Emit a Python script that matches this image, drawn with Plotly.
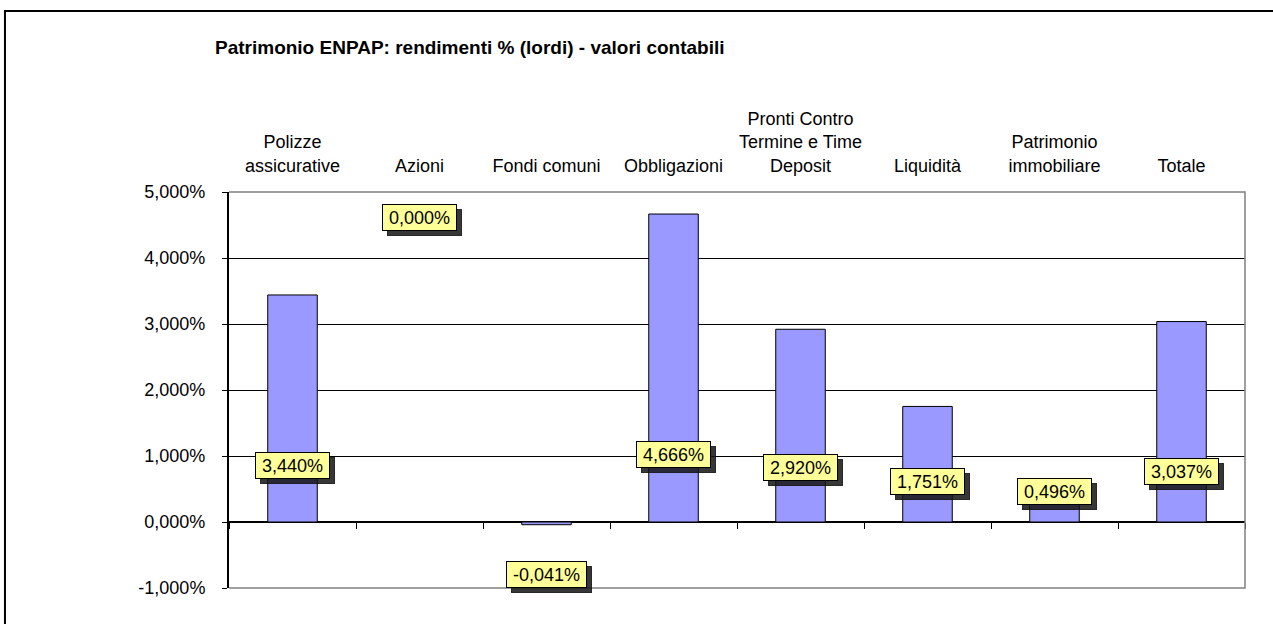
import plotly.graph_objects as go

# ---- data ----
categories = [
    "Polizze<br>assicurative",
    "Azioni",
    "Fondi comuni",
    "Obbligazioni",
    "Pronti Contro<br>Termine e Time<br>Deposit",
    "Liquidità",
    "Patrimonio<br>immobiliare",
    "Totale",
]
rendimenti = [3.440, 0.000, -0.041, 4.666, 2.920, 1.751, 0.496, 3.037]
y_tick_vals = [-1, 0, 1, 2, 3, 4, 5]
y_tick_text = ["-1,000%", "0,000%", "1,000%", "2,000%", "3,000%", "4,000%", "5,000%"]
# vertical placement of the data-label boxes (as placed in the original chart)
label_y = [0.85, 4.61, -0.80, 1.03, 0.83, 0.62, 0.46, 0.76]

title_text = "Patrimonio ENPAP: rendimenti % (lordi) - valori contabili"

FONT = "Liberation Sans, Arial, sans-serif"
LBL_SIZE = 18
CHAR_EM = {",": 0.278, "%": 0.889, "-": 0.333}


def fmt(v):
    return f"{v:.3f}".replace(".", ",") + "%"


def text_width(s, size):
    return sum(CHAR_EM.get(c, 0.556) for c in s) * size


fig = go.Figure()
fig.add_trace(go.Bar(
    x=categories, y=rendimenti,
    marker=dict(color="#9999FF", line=dict(color="black", width=1)),
    width=0.39,
    hoverinfo="x+y",
))
# invisible helper trace for the tick marks on the zero line
fig.add_trace(go.Scatter(
    x=categories, y=rendimenti, xaxis="x2", yaxis="y",
    mode="markers", marker=dict(opacity=0), hoverinfo="skip", showlegend=False,
))

SH = "rgba(20,20,20,0.85)"
annotations = []
for cat, v, ly in zip(categories, rendimenti, label_y):
    txt = fmt(v)
    w = round(text_width(txt, LBL_SIZE)) + 6
    # shadow (box only)
    annotations.append(dict(
        x=cat, y=ly, xref="x", yref="y", text="&nbsp;", showarrow=False,
        width=w, height=19, font=dict(family=FONT, size=LBL_SIZE, color=SH),
        bgcolor=SH, bordercolor=SH, borderwidth=1,
        borderpad=3, xshift=5, yshift=-5,
    ))
    annotations.append(dict(
        x=cat, y=ly, xref="x", yref="y", text=txt, showarrow=False,
        width=w, height=19, font=dict(family=FONT, size=LBL_SIZE, color="black"),
        bgcolor="#FFFF99", bordercolor="black", borderwidth=1, borderpad=3,
    ))

shapes = [
    # gray frame of the plot area (top, right, bottom)
    dict(type="path", xref="paper", yref="paper",
         path="M 0 1 L 1 1 L 1 0 L 0 0", line=dict(color="#808080", width=1.5),
         layer="above"),
    # outer chart frame
    dict(type="rect", xref="paper", yref="paper",
         x0=-0.2205, x1=1.1, y0=-0.3, y1=1.457,
         line=dict(color="black", width=2), layer="below"),
]

fig.update_layout(
    width=1273, height=624,
    margin=dict(l=229, r=28, t=192, b=36),
    paper_bgcolor="white", plot_bgcolor="white",
    font=dict(family=FONT, size=18, color="black"),
    showlegend=False,
    title=dict(text=f"<b>{title_text}</b>", x=215 / 1273, xanchor="left",
               y=1 - 47 / 624, yanchor="middle",
               font=dict(family=FONT, size=19, color="black")),
    xaxis=dict(
        type="category", range=[-0.5, 7.5], side="top", anchor="free", position=1,
        showline=False, showgrid=False, zeroline=False,
        ticks="outside", ticklen=13, tickcolor="rgba(0,0,0,0)",
        tickfont=dict(family=FONT, size=18, color="black"),
    ),
    xaxis2=dict(
        type="category", range=[-0.5, 7.5], overlaying="x", anchor="free",
        position=1 / 6, showticklabels=False, showline=False, showgrid=False,
        zeroline=False, ticks="outside", tickson="boundaries", ticklen=6,
        tickcolor="black", tickwidth=1,
    ),
    yaxis=dict(
        range=[-1, 5], tickvals=y_tick_vals, ticktext=y_tick_text,
        showgrid=True, gridcolor="black", gridwidth=1,
        zeroline=True, zerolinecolor="black", zerolinewidth=2,
        showline=True, linecolor="black", linewidth=2,
        ticks="outside", ticklen=5, tickcolor="black", ticklabelstandoff=13,
        tickfont=dict(family=FONT, size=18, color="black"),
    ),
    annotations=annotations,
    shapes=shapes,
)

fig.write_html(
    "out.html",
    config={"displayModeBar": False},
    post_script="document.body.style.margin='0';document.body.style.overflow='hidden';",
)
